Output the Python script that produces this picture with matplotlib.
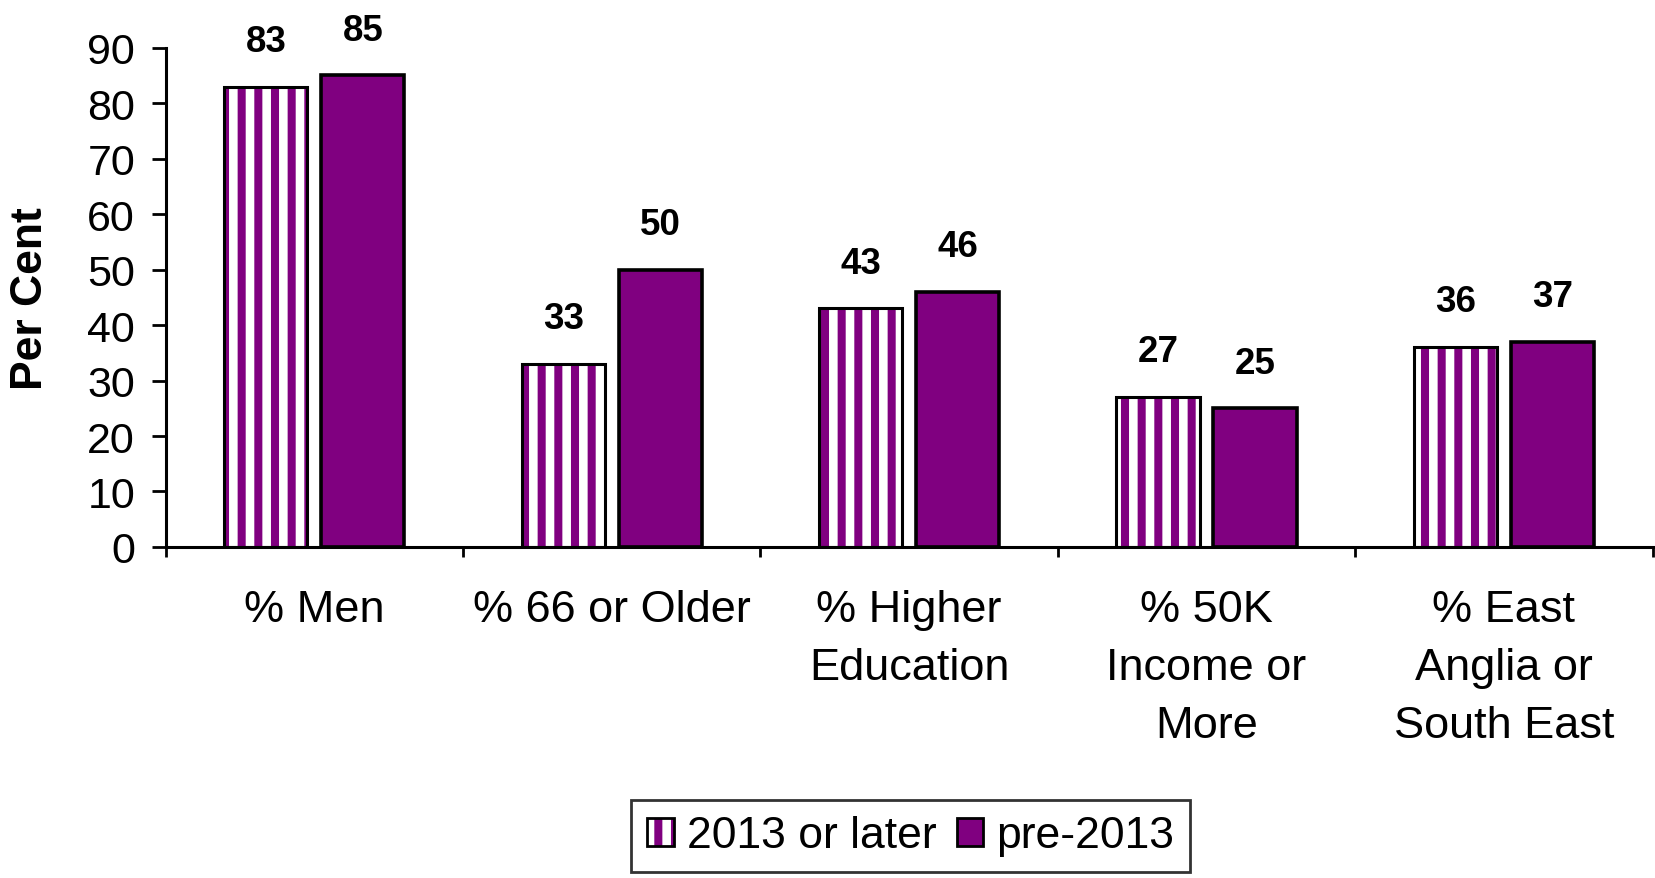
import numpy as np
import matplotlib.pyplot as plt
from matplotlib.patches import Patch
from matplotlib.legend_handler import HandlerTuple

plt.rcParams['font.family'] = ['Liberation Sans', 'DejaVu Sans']
plt.rcParams['hatch.linewidth'] = 5.8

categories = ['% Men', '% 66 or Older', '% Higher\nEducation',
              '% 50K\nIncome or\nMore', '% East\nAnglia or\nSouth East']
later = [83, 33, 43, 27, 36]
pre = [85, 50, 46, 25, 37]
series_names = ['2013 or later', 'pre-2013']

purple = '#800080'
x = np.arange(len(categories))
width = 0.28
shift = 0.163

fig = plt.figure(figsize=(16.56, 8.79), dpi=100)
ax = fig.add_axes([0.100, 0.3766, 0.898, 0.568])

# striped bars: hatch first, then a black outline on top
ax.bar(x - shift, later, width, color='white', edgecolor=purple,
       hatch='|', linewidth=0, zorder=2)
ax.bar(x - shift, later, width, fill=False, edgecolor='black',
       linewidth=2.2, zorder=3)
ax.bar(x + shift, pre, width, color=purple, edgecolor='black',
       linewidth=2.6, zorder=3)

for xs, vals in ((x - shift, later), (x + shift, pre)):
    for xi, v in zip(xs, vals):
        ax.annotate(str(v), (xi, v), xytext=(0, 20), textcoords='offset points',
                    ha='center', va='bottom', fontsize=26.5, fontweight='bold')

ax.set_xlim(-0.5, len(categories) - 0.5)
ax.set_ylim(0, 90)
ax.set_yticks(np.arange(0, 91, 10))
ax.tick_params(axis='y', labelsize=31, length=10, width=2, pad=12)

# ticks on category boundaries, labels centred under each group
ax.set_xticks(np.arange(-0.5, len(categories), 1.0))
ax.set_xticklabels([])
ax.tick_params(axis='x', which='major', length=7, width=2)
ax.set_xticks(x, minor=True)
ax.set_xticklabels(categories, minor=True, fontsize=32.5, linespacing=1.53,
                   va='top')
ax.tick_params(axis='x', which='minor', length=0, pad=30)

for side in ('top', 'right'):
    ax.spines[side].set_visible(False)
for side in ('left', 'bottom'):
    ax.spines[side].set_linewidth(2.2)

ax.set_ylabel('Per Cent', fontsize=32, fontweight='bold')
ax.yaxis.set_label_coords(-0.077, 0.5)

h_later = (Patch(facecolor='white', edgecolor=purple, hatch='|', linewidth=0),
           Patch(fill=False, edgecolor='black', linewidth=2))
h_pre = Patch(facecolor=purple, edgecolor='black', linewidth=2)
leg = fig.legend([h_later, h_pre], series_names,
                 handler_map={tuple: HandlerTuple(ndivide=1)},
                 loc='upper center', bbox_to_anchor=(0.550, 0.089),
                 borderaxespad=0, ncol=2, fontsize=32, frameon=True,
                 fancybox=False, handlelength=0.6, handleheight=0.6,
                 handletextpad=0.3, columnspacing=0.45, borderpad=0.35)
leg.get_frame().set_edgecolor('black')
leg.get_frame().set_linewidth(2)

fig.savefig('out.png', dpi=100)
